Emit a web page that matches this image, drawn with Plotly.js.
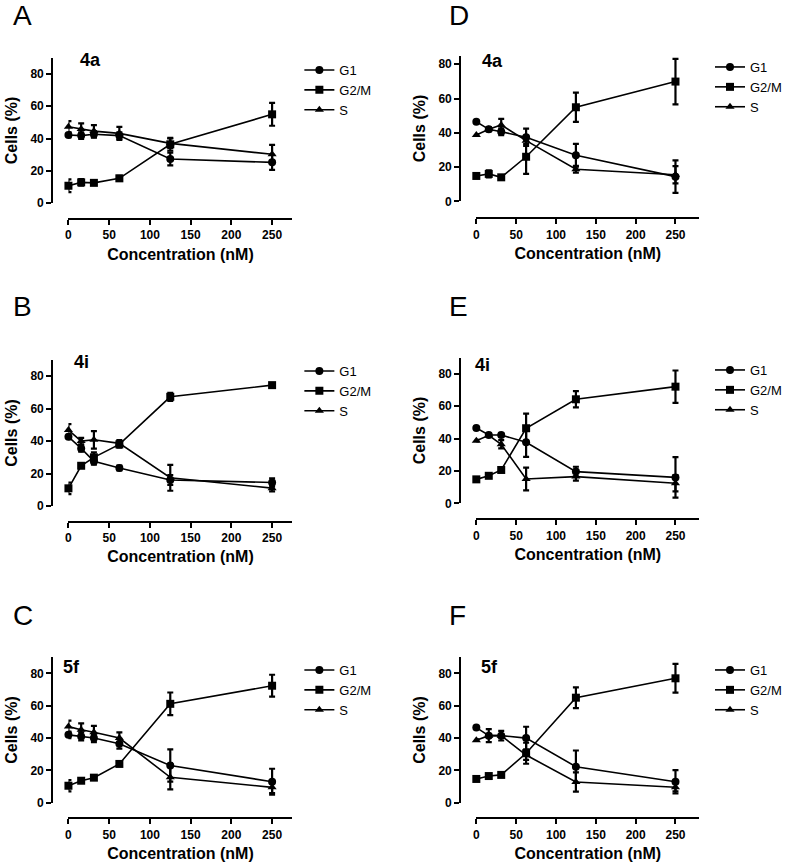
<!DOCTYPE html>
<html>
<head>
<meta charset="utf-8">
<script src="https://cdn.plot.ly/plotly-3.0.1.min.js"></script>
<style>html,body{margin:0;padding:0;background:#fff;}#chart{width:787px;height:863px;}</style>
</head>
<body>
<div id="chart"></div>
<script>
// ---- data ----
const conc = [0, 15.625, 31.25, 62.5, 125, 250];
const seriesNames = ["G1", "G2/M", "S"];
const xTicks = [0, 50, 100, 150, 200, 250];
const yTicks = [0, 20, 40, 60, 80];
const panelLetters = ["A", "B", "C", "D", "E", "F"];
const compoundNames = ["4a", "4i", "5f", "4a", "4i", "5f"];

// Panel A (4a)
const A_G1 = [42.2, 41.8, 42.6, 41.8, 27.3, 25.2];
const A_G1_err = [1.5, 2, 2, 2, 4, 4.7];
const A_G2M = [10.7, 12.8, 12.5, 15.3, 36.4, 55];
const A_G2M_err = [3.9, 2, 0.5, 1.5, 4, 7.1];
const A_S = [47.3, 45.9, 44.6, 43.2, 37, 30.2];
const A_S_err = [3.5, 3.5, 3.7, 4, 3, 5.8];

// Panel B (4i)
const B_G1 = [42.7, 35.5, 27.5, 23.4, 16, 14.5];
const B_G1_err = [1.5, 2, 2, 1.5, 3, 2.5];
const B_G2M = [10.9, 24.8, 30, 38, 67.3, 74.5];
const B_G2M_err = [3.6, 0.5, 3, 2, 2.5, 0.5];
const B_S = [46.8, 40, 40.8, 38.6, 17.4, 11];
const B_S_err = [3.7, 2, 5.4, 2, 8, 2];

// Panel C (5f)
const C_G1 = [42, 41, 40, 36.5, 23, 13];
const C_G1_err = [2, 2.5, 2.5, 3, 10, 8];
const C_G2M = [10.5, 13.6, 15.5, 24, 61.2, 72.4];
const C_G2M_err = [3.5, 1, 0.5, 0.5, 7, 6.8];
const C_S = [47.1, 45.1, 43.6, 40, 15.7, 9.5];
const C_S_err = [3.7, 4, 4, 3.5, 7.5, 3.5];

// Panel D (4a)
const D_G1 = [46.5, 42, 40.6, 37.4, 26.9, 14.4];
const D_G1_err = [0.5, 1, 2, 5, 6.6, 9.5];
const D_G2M = [14.8, 16, 14, 26, 54.9, 69.9];
const D_G2M_err = [0.5, 2, 0.5, 10, 8.5, 13.3];
const D_S = [38.7, 42, 44.6, 35.4, 18.7, 15.5];
const D_S_err = [0.5, 1, 3.5, 2, 2, 5];

// Panel E (4i)
const E_G1 = [46.6, 42.2, 42.2, 37.7, 19.6, 16];
const E_G1_err = [0.5, 1, 1, 9, 3, 12.5];
const E_G2M = [14.8, 17, 20.6, 46.4, 64.3, 72.1];
const E_G2M_err = [0.5, 0.5, 0.5, 9, 5, 10];
const E_S = [38.7, 42, 36.5, 15, 16.5, 12.4];
const E_S_err = [0.5, 1, 2.5, 7, 2.5, 5];

// Panel F (5f)
const F_G1 = [46.5, 41.5, 41.5, 40, 22.3, 13];
const F_G1_err = [0.5, 1, 1, 7, 10, 7.2];
const F_G2M = [14.7, 16.5, 17.2, 30.6, 65, 77];
const F_G2M_err = [0.5, 1, 0.5, 6.5, 6.4, 8.9];
const F_S = [38.7, 41.5, 41.5, 29.5, 12.8, 9.6];
const F_S_err = [0.5, 4, 3, 3, 6, 2.5];

const panelData = [
  [[A_G1, A_G1_err], [A_G2M, A_G2M_err], [A_S, A_S_err]],
  [[B_G1, B_G1_err], [B_G2M, B_G2M_err], [B_S, B_S_err]],
  [[C_G1, C_G1_err], [C_G2M, C_G2M_err], [C_S, C_S_err]],
  [[D_G1, D_G1_err], [D_G2M, D_G2M_err], [D_S, D_S_err]],
  [[E_G1, E_G1_err], [E_G2M, E_G2M_err], [E_S, E_S_err]],
  [[F_G1, F_G1_err], [F_G2M, F_G2M_err], [F_S, F_S_err]]
];

// ---- layout geometry (pixels) ----
const W = 787, H = 863;
const FONT = "Arial, 'Liberation Sans', sans-serif";
const symbols = ["circle", "square", "triangle-up"];
const geo = [
  {x0: 69.5, x1: 297.0, xmax: 275, yax: 53, y0: 203.0, yt: 57.9, ymax: 90, xay: 219.0, L: [11, 15], T: [79, 60], G: [304, 55]},
  {x0: 69.5, x1: 297.0, xmax: 275, yax: 53, y0: 506.0, yt: 360.0, ymax: 90, xay: 521.7, L: [11, 307], T: [73, 362], G: [304, 356]},
  {x0: 69.5, x1: 297.0, xmax: 275, yax: 53, y0: 802.7, yt: 657.3, ymax: 90, xay: 818.3, L: [11, 615], T: [62, 667], G: [304, 655]},
  {x0: 483.7, x1: 710.2, xmax: 280, yax: 467.3, y0: 201.3, yt: 55.7, ymax: 85, xay: 218.3, L: [454, 15], T: [487, 61], G: [721, 52]},
  {x0: 483.7, x1: 710.2, xmax: 280, yax: 467.3, y0: 503.3, yt: 357.7, ymax: 90, xay: 519.3, L: [454, 307], T: [480, 365], G: [721, 355]},
  {x0: 483.7, x1: 710.2, xmax: 280, yax: 467.3, y0: 802.7, yt: 657.3, ymax: 90, xay: 818.3, L: [454, 615], T: [486, 667], G: [721, 655]}
];
const fx = px => px / W;
const fy = py => 1 - py / H;

const traces = [];
const layout = {
  width: W, height: H,
  margin: {l: 0, r: 0, t: 0, b: 0},
  paper_bgcolor: "#fff", plot_bgcolor: "rgba(0,0,0,0)",
  font: {family: FONT, color: "#000"},
  showlegend: true,
  annotations: []
};

geo.forEach((g, i) => {
  const n = i + 1;
  const xk = n === 1 ? "xaxis" : "xaxis" + n;
  const yk = n === 1 ? "yaxis" : "yaxis" + n;
  const xr = n === 1 ? "x" : "x" + n;
  const yr = n === 1 ? "y" : "y" + n;
  const lg = n === 1 ? "legend" : "legend" + n;

  panelData[i].forEach((s, k) => {
    traces.push({
      type: "scatter", mode: "lines+markers",
      x: conc, y: s[0],
      name: seriesNames[k],
      xaxis: xr, yaxis: yr, legend: lg,
      cliponaxis: false,
      line: {color: "#000", width: 1.6},
      marker: {symbol: symbols[k], size: 8, color: "#000"},
      error_y: {type: "data", array: s[1], visible: true, color: "#000", thickness: 2.2, width: 3}
    });
  });

  layout[xk] = {
    domain: [fx(g.x0), fx(g.x1)], range: [0, g.xmax],
    anchor: "free", position: fy(g.xay),
    showline: true, linecolor: "#000", linewidth: 2,
    ticks: "outside", ticklen: 5, tickwidth: 2, tickcolor: "#000",
    tickvals: xTicks, ticktext: xTicks.map(String),
    tickfont: {family: FONT, size: 12, weight: "bold", color: "#000"},
    showgrid: false, zeroline: false, fixedrange: true,
    title: {text: "Concentration (nM)", font: {family: FONT, size: 16, weight: "bold", color: "#000"}, standoff: 6}
  };
  layout[yk] = {
    domain: [fy(g.y0), fy(g.yt)], range: [0, g.ymax],
    anchor: "free", position: fx(g.yax),
    showline: true, linecolor: "#000", linewidth: 2,
    ticks: "outside", ticklen: 5, tickwidth: 2, tickcolor: "#000",
    tickvals: yTicks, ticktext: yTicks.map(String),
    tickfont: {family: FONT, size: 12, weight: "bold", color: "#000"},
    showgrid: false, zeroline: false, fixedrange: true,
    title: {text: "Cells (%)", font: {family: FONT, size: 16, weight: "bold", color: "#000"}, standoff: 8}
  };
  layout[lg] = {
    x: fx(g.G[0]), y: fy(g.G[1]), xanchor: "left", yanchor: "top",
    xref: "paper", yref: "paper",
    bgcolor: "rgba(0,0,0,0)", borderwidth: 0,
    font: {family: FONT, size: 13, color: "#000"},
    itemwidth: 30, tracegroupgap: 0
  };
  layout.annotations.push({
    text: panelLetters[i], xref: "paper", yref: "paper",
    x: fx(g.L[0]), y: fy(g.L[1]), xanchor: "left", yanchor: "middle",
    showarrow: false, font: {family: FONT, size: 28, color: "#000"}
  });
  layout.annotations.push({
    text: compoundNames[i], xref: "paper", yref: "paper",
    x: fx(g.T[0]), y: fy(g.T[1]), xanchor: "left", yanchor: "middle",
    showarrow: false, font: {family: FONT, size: 18, weight: "bold", color: "#000"}
  });
});

Plotly.newPlot("chart", traces, layout, {displayModeBar: false, staticPlot: true});
</script>
</body>
</html>
